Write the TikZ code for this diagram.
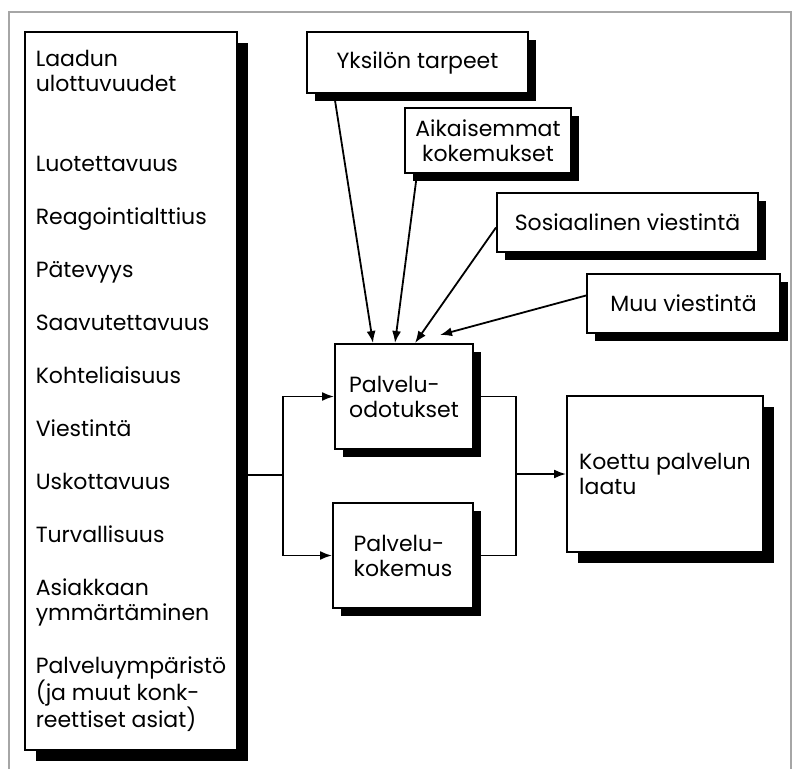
\documentclass[tikz,border=0pt]{standalone}
\usepackage{fontspec}
\setmainfont{Poppins}
\usetikzlibrary{arrows.meta,shadows}

\begin{document}
\begin{tikzpicture}[x=1pt,y=-1pt,
    every node/.style={font=\fontsize{22}{25}\selectfont},
    box/.style={draw,line width=2pt,fill=white,inner sep=0pt,
      drop shadow={shadow xshift=#1,shadow yshift=-#1,fill=black,opacity=1}},
    box/.default=8pt,
    link/.style={line width=1.8pt,-{Latex[length=12pt,width=9pt]}}]
  \useasboundingbox (0,0) rectangle (792,769);
  \draw[gray!70,line width=1.8pt] (9,769) -- (9,12) -- (791,12) -- (791,769);
  \node[box=11pt,minimum width=212pt,minimum height=718pt,align=left] (dims) at (131,391)
    {Laadun\\ulottuvuudet\\[55pt]Luotettavuus\\[28pt]Reagointialttius\\[28pt]P\"atevyys\\[28pt]Saavutettavuus\\[28pt]Kohteliaisuus\\[28pt]Viestint\"a\\[28pt]Uskottavuus\\[28pt]Turvallisuus\\[28pt]Asiakkaan\\ymm\"art\"aminen\\[28pt]Palveluymp\"arist\"o\\(ja muut konk-\\reettiset asiat)};
  \node[box,minimum width=221pt,minimum height=61pt] (yksilo) at (417.5,62.5) {Yksil\"on tarpeet};
  \node[box,minimum width=166pt,minimum height=65pt,align=center] (aikais) at (488,140.5) {Aikaisemmat\\kokemukset};
  \node[box,minimum width=261pt,minimum height=59pt] (sosiaal) at (627.5,222.5) {Sosiaalinen viestint\"a};
  \node[box,minimum width=193pt,minimum height=59pt] (muu) at (683.5,303.5) {Muu viestint\"a};
  \node[box,minimum width=138pt,minimum height=105pt,align=left] (odot) at (404,396.5) {Palvelu-\\odotukset};
  \node[box,minimum width=140pt,minimum height=105pt,align=left] (kokem) at (403,555.5) {Palvelu-\\kokemus};
  \node[box=11pt,minimum width=196pt,minimum height=156pt,align=left] (koettu) at (665,474) {Koettu palvelun\\laatu};
  \coordinate (split) at (283,475);
  \coordinate (join) at (516,474);
  \draw[line width=1.8pt] (split -| dims.east) -- (split);
  \draw[link] (split) |- (odot.west);
  \draw[link] (split) |- (kokem.west);
  \draw[line width=1.8pt] (odot.east) -| (join) |- (kokem.east);
  \draw[link] (join) -- (koettu.west);
  \draw[link] ([xshift=28pt]yksilo.south west) -- ([xshift=-31pt]odot.north);
  \draw[link] ([xshift=13pt]aikais.south west) -- ([xshift=-9pt]odot.north);
  \draw[link] ([yshift=-5pt]sosiaal.west) -- ([xshift=11pt]odot.north);
  \draw[link] ([yshift=8pt]muu.west) -- ([xshift=36pt,yshift=8pt]odot.north);
\end{tikzpicture}
\end{document}
